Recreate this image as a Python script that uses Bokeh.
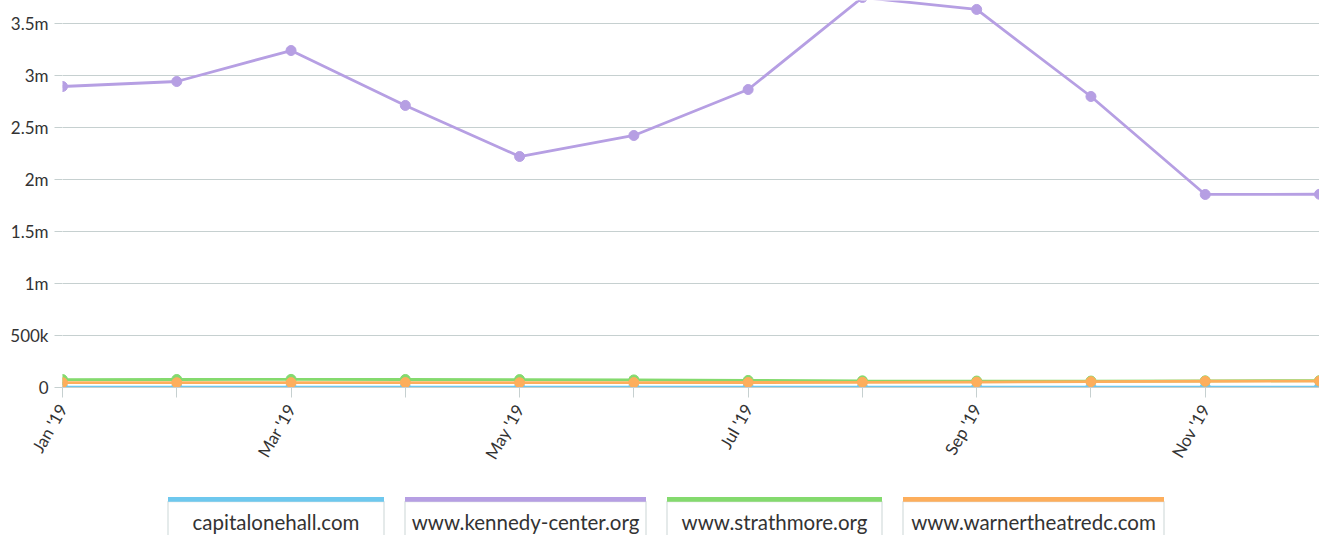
import math
from bokeh.plotting import figure
from bokeh.models import FixedTicker, Range1d, ColumnDataSource
from bokeh.layouts import column
from bokeh.embed import file_html
from bokeh.resources import INLINE
from bokeh.core.properties import value

months = ["Jan '19", "Feb '19", "Mar '19", "Apr '19", "May '19", "Jun '19",
          "Jul '19", "Aug '19", "Sep '19", "Oct '19", "Nov '19", "Dec '19"]
series_names = ["capitalonehall.com", "www.kennedy-center.org",
                "www.strathmore.org", "www.warnertheatredc.com"]
capitalonehall = [3000, 3000, 3000, 3000, 3000, 3000, 3000, 3000, 3000, 3000, 3000, 3000]
kennedy = [2894000, 2942000, 3240000, 2712000, 2221000, 2423000,
           2865000, 3750000, 3635000, 2798000, 1856000, 1858000]
strathmore = [76000, 77000, 78000, 77000, 76000, 73000,
              68000, 64000, 62000, 62000, 64000, 66000]
warner = [46000, 46000, 47000, 47000, 46000, 47000,
          48000, 50000, 52000, 56000, 60000, 62000]
y_ticks = [0, 500000, 1000000, 1500000, 2000000, 2500000, 3000000, 3500000]
y_tick_labels = ["0", "500k", "1m", "1.5m", "2m", "2.5m", "3m", "3.5m"]

colors = ["#6ec8ee", "#b69fe3", "#84da6e", "#fdae5c"]
all_series = [capitalonehall, kennedy, strathmore, warner]
FONT = "Lato"
GRID = "#c6d0d0"
TXT = "#333333"

W = 1319
H_MAIN = 488
FRAME_L = 62
p = figure(width=W, height=H_MAIN, output_backend="svg", toolbar_location=None,
           x_range=Range1d(0, 11), y_range=Range1d(0, 3721000),
           min_border_left=FRAME_L, min_border_right=0, min_border_top=0,
           min_border_bottom=H_MAIN - 387)
p.outline_line_color = None
p.xgrid.grid_line_color = None
p.ygrid.grid_line_color = GRID
p.ygrid.ticker = FixedTicker(ticks=y_ticks)

x = list(range(len(months)))
for name, vals, c in zip(series_names, all_series, colors):
    src = ColumnDataSource(dict(x=x, y=vals))
    p.line("x", "y", source=src, line_color=c, line_width=2.8)
    p.scatter("x", "y", source=src, size=10, fill_color=c, line_color=c)

p.yaxis.ticker = FixedTicker(ticks=y_ticks)
p.yaxis.major_label_overrides = {t: l for t, l in zip(y_ticks, y_tick_labels)}
p.yaxis.axis_line_color = None
p.yaxis.major_tick_out = 8
p.yaxis.major_tick_in = 0
p.yaxis.major_tick_line_color = GRID
p.yaxis.minor_tick_line_color = None
p.yaxis.major_label_text_font = FONT
p.yaxis.major_label_text_font_size = "17px"
p.yaxis.major_label_text_color = TXT
p.yaxis.major_label_standoff = 6

p.xaxis.ticker = FixedTicker(ticks=x)
p.xaxis.major_label_overrides = {i: (m if i % 2 == 0 else "") for i, m in enumerate(months)}
p.xaxis.axis_line_color = GRID
p.xaxis.major_tick_out = 10
p.xaxis.major_tick_in = 0
p.xaxis.major_tick_line_color = GRID
p.xaxis.minor_tick_line_color = None
p.xaxis.major_label_orientation = math.pi / 3
p.xaxis.major_label_text_font = FONT
p.xaxis.major_label_text_font_size = "17px"
p.xaxis.major_label_text_color = TXT
p.xaxis.major_label_standoff = 8

# legend drawn as its own strip below the chart (frame aligned with the chart's frame)
H_LEG = 535 - H_MAIN
box_widths = [216, 241, 215, 261]
gap = 21
lg = figure(width=W, height=H_LEG, output_backend="svg", toolbar_location=None,
            x_range=Range1d(FRAME_L, W), y_range=Range1d(535, H_MAIN),
            x_axis_type=None, y_axis_type=None,
            min_border_left=FRAME_L, min_border_right=0, min_border_top=0, min_border_bottom=0)
lg.outline_line_color = None
lg.grid.visible = False
total = sum(box_widths) + gap * (len(box_widths) - 1)
x0 = 665.5 - total / 2
lefts, rights = [], []
for w in box_widths:
    lefts.append(x0)
    rights.append(x0 + w)
    x0 += w + gap
centers = [(l + r) / 2 for l, r in zip(lefts, rights)]
lsrc = ColumnDataSource(dict(left=lefts, right=rights, c=colors, name=series_names, cx=centers))
lg.quad(left="left", right="right", top=501, bottom=700, source=lsrc,
        fill_color="white", line_color="#dde4e4", line_width=1.5)
lg.quad(left="left", right="right", top=496.5, bottom=501.2, source=lsrc,
        fill_color="c", line_color=None)
lg.text(x="cx", y=521, text="name", source=lsrc, text_font=value(FONT),
        text_font_size="20.5px", text_color=TXT, text_align="center",
        text_baseline="middle")

layout = column(p, lg, spacing=0)
open("out.html", "w").write(file_html(layout, INLINE))
